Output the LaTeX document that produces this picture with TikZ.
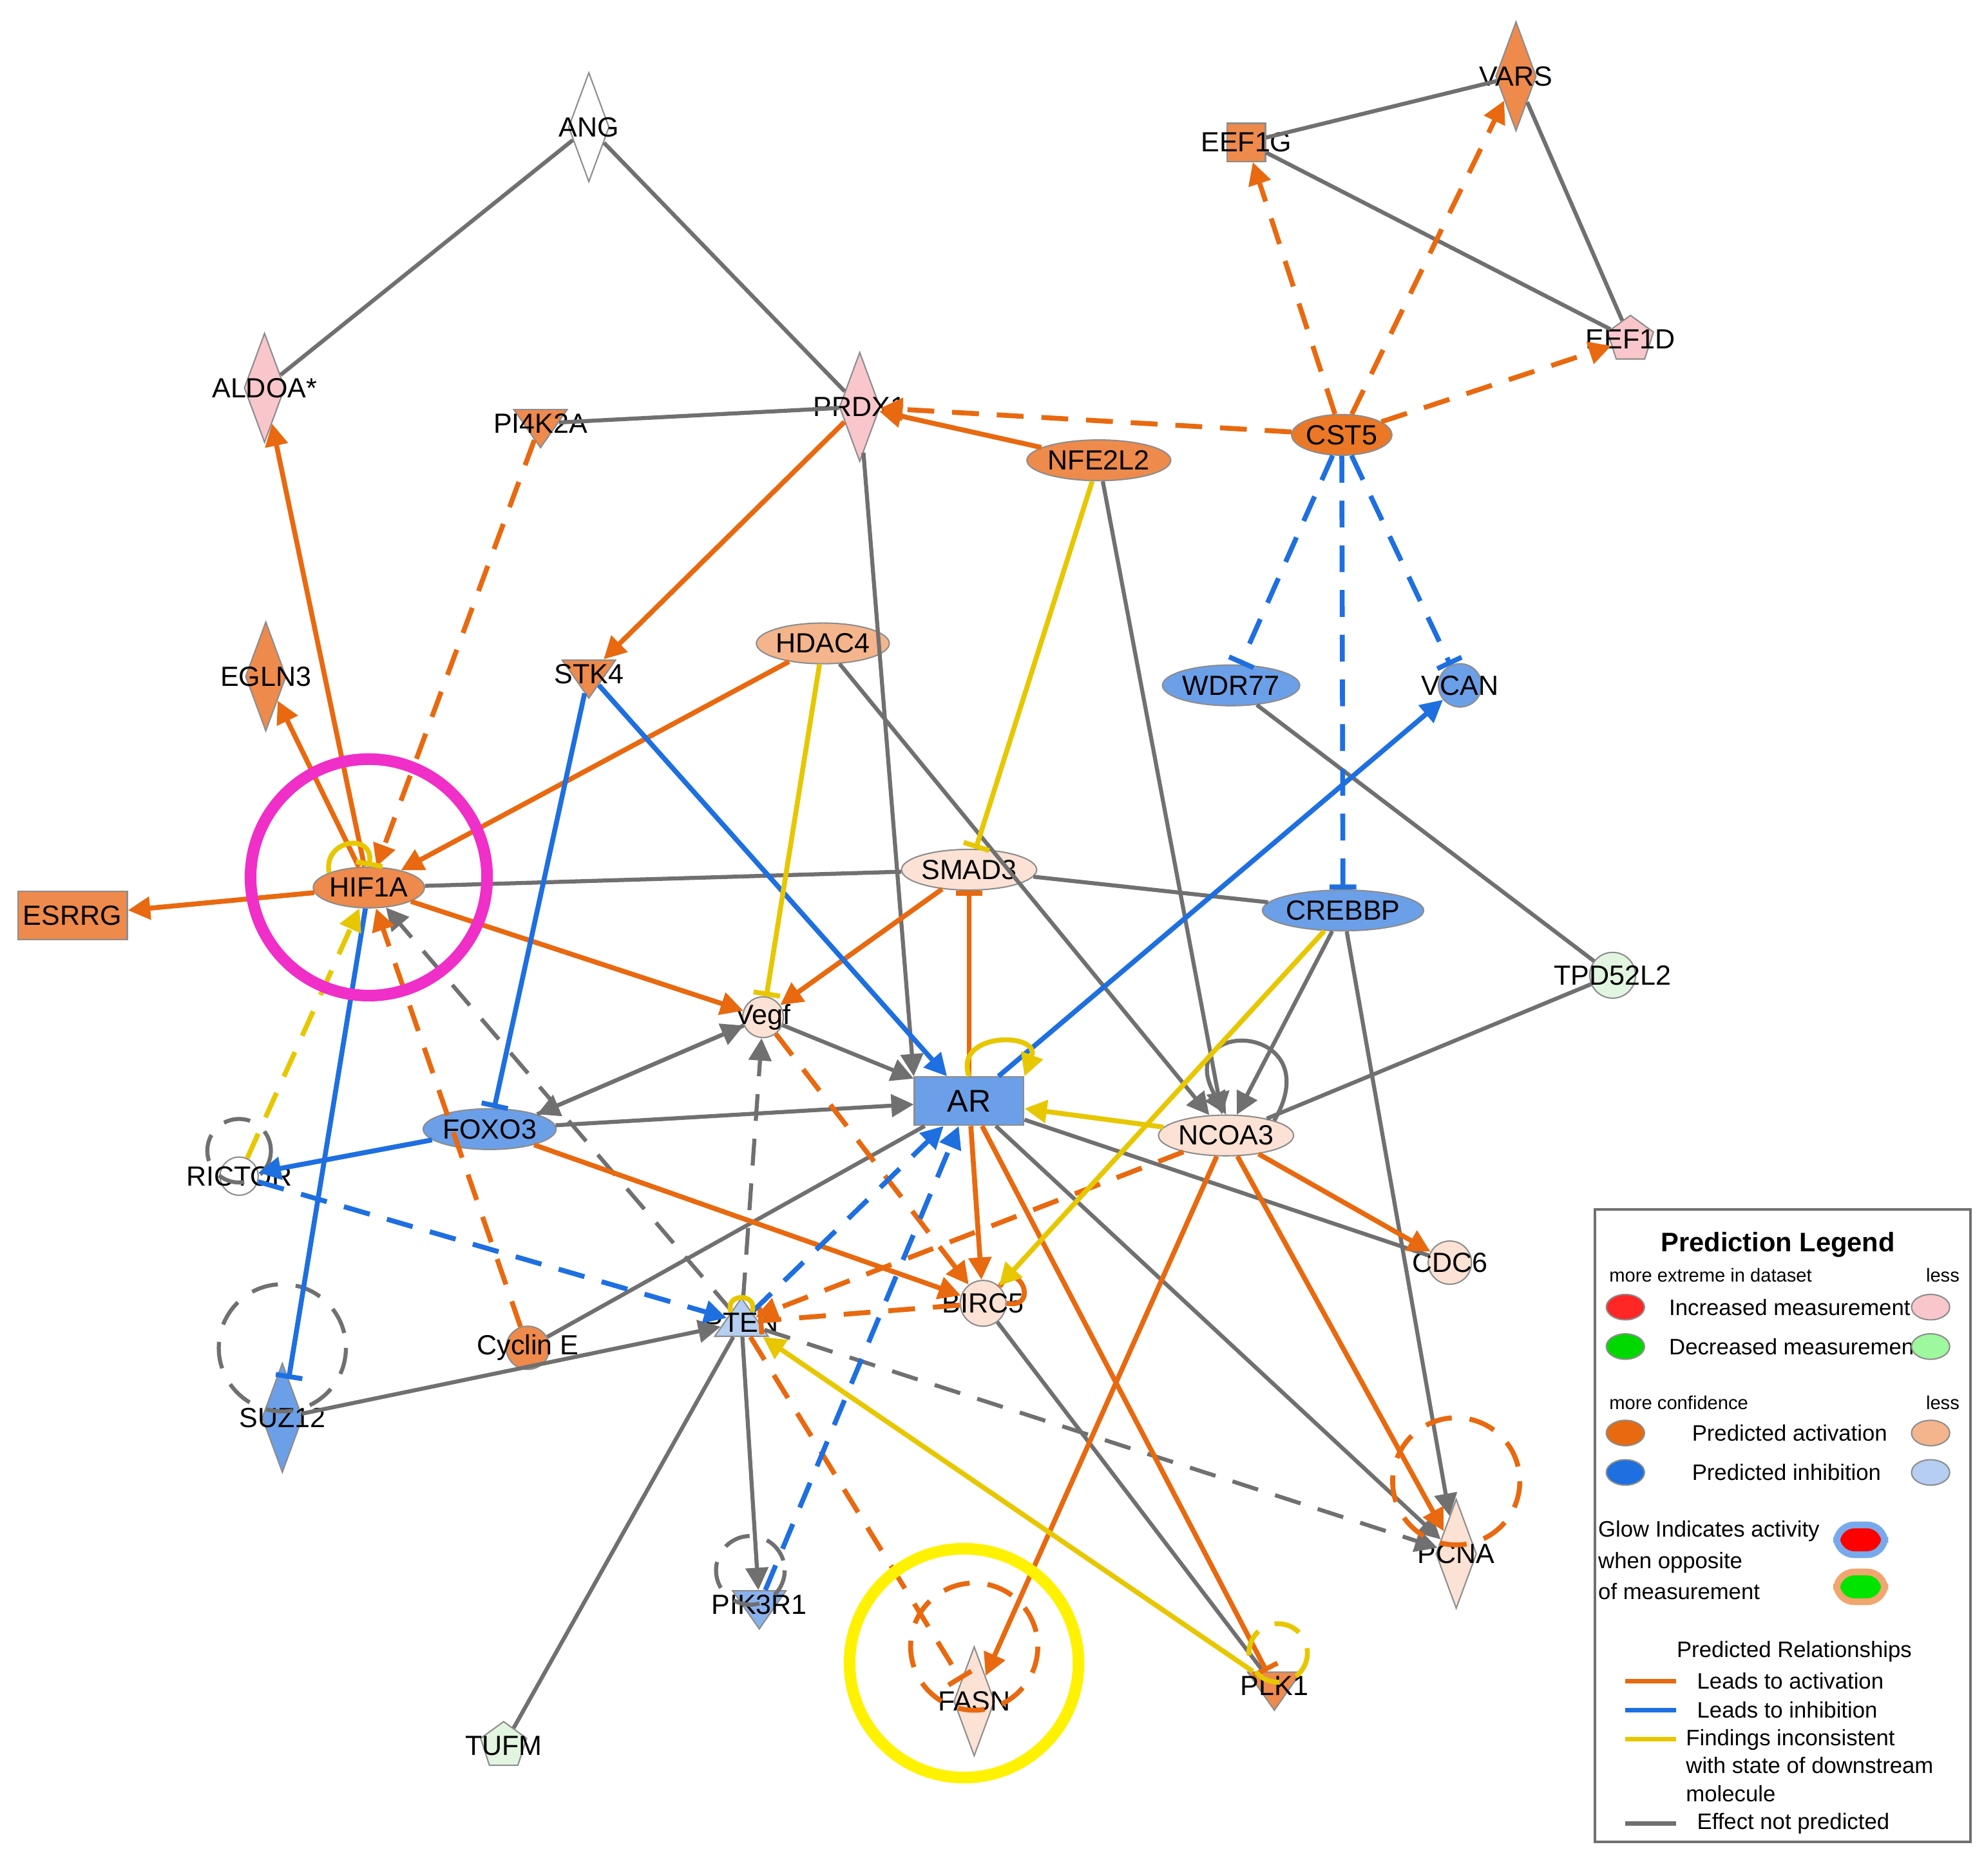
\documentclass[tikz,border=0pt]{standalone}
\usepackage{fontspec}
\setmainfont{Liberation Sans}
\usetikzlibrary{shapes.geometric,arrows.meta}
\definecolor{cO}{HTML}{E8690F}
\definecolor{cB}{HTML}{1E6FE0}
\definecolor{cY}{HTML}{E6C700}
\definecolor{cG}{HTML}{707070}
\definecolor{fO}{HTML}{EE8A4C}
\definecolor{fLO}{HTML}{F4B58C}
\definecolor{fP}{HTML}{FBE2D4}
\definecolor{fB}{HTML}{6B9FE8}
\definecolor{fLB}{HTML}{B5CEF2}
\definecolor{fPk}{HTML}{F8C6CB}
\definecolor{fGr}{HTML}{E2F5E0}
\definecolor{mag}{HTML}{F02EC8}
\definecolor{yel}{HTML}{FFF200}
\begin{document}
\begin{tikzpicture}[x=0.01cm,y=-0.01cm,font=\fontsize{6.2}{7}\selectfont,
 sh/.style={draw=cG!80,line width=0.3pt,inner sep=0pt},
 ell/.style={sh,ellipse,minimum width=0.84cm,minimum height=0.32cm},
 cir/.style={sh,circle,minimum size=0.3cm},
 dia/.style={sh,diamond,aspect=0.36,minimum width=0.32cm,minimum height=0.86cm},
 tdn/.style={sh,isosceles triangle,shape border rotate=270,isosceles triangle apex angle=70,minimum height=0.3cm,minimum width=0.36cm},
 tup/.style={sh,isosceles triangle,shape border rotate=90,isosceles triangle apex angle=70,minimum height=0.3cm,minimum width=0.36cm},
 pent/.style={sh,regular polygon,regular polygon sides=5,minimum size=0.38cm},
 box/.style={sh,rectangle,minimum width=0.3cm,minimum height=0.3cm},
 e/.style={line width=1.1pt},
 ar/.style={-{Triangle[length=5pt,width=5pt]}},
 tb/.style={-{Bar[width=6pt]}},
 O/.style={e,cO}, B/.style={e,cB}, Y/.style={e,cY}, G/.style={cG,line width=0.9pt},
 D/.style={dash pattern=on 6pt off 4pt}]
\useasboundingbox (0,0) rectangle (1560,1475);
% nodes
\node[dia,fill=white,label=center:ANG] (ang) at (463,100) {};
\node[dia,fill=fPk,label=center:ALDOA*] (aldoa) at (208,305) {};
\node[tdn,fill=fO,label=center:PI4K2A] (pi4k) at (425,333) {};
\node[dia,fill=fPk,label=center:PRDX1] (prdx1) at (676,320) {};
\node[ell,fill=fO] (nfe) at (864,362) {NFE2L2};
\node[ell,fill=cO!90,minimum width=0.5cm] (cst5) at (1055,342) {CST5};
\node[box,fill=fO,label=center:EEF1G] (eef1g) at (980,112) {};
\node[dia,fill=fO,label=center:VARS] (vars) at (1192,60) {};
\node[pent,fill=fPk,label=center:EEF1D] (eef1d) at (1282,267) {};
\node[dia,fill=fO,label=center:EGLN3] (egln3) at (209,532) {};
\node[tdn,fill=fO,label=center:STK4] (stk4) at (463,530) {};
\node[ell,fill=fLO] (hdac4) at (647,506) {HDAC4};
\node[ell,fill=fB] (wdr77) at (968,539) {WDR77};
\node[cir,fill=fB,minimum size=0.34cm,label=center:VCAN] (vcan) at (1148,539) {};
\node[ell,fill=fO] (hif) at (290,698) {HIF1A};
\node[box,fill=fO,minimum width=0.86cm,minimum height=0.38cm] (esrrg) at (57,720) {ESRRG};
\node[ell,fill=fP] (smad3) at (762,684) {SMAD3};
\node[ell,fill=fB] (crebbp) at (1056,716) {CREBBP};
\node[cir,fill=fGr,minimum size=0.36cm,label=center:TPD52L2] (tpd) at (1268,767) {};
\node[cir,fill=fP,minimum size=0.32cm,label=center:Vegf] (vegf) at (600,800) {};
\node[box,fill=fB,minimum width=0.86cm,minimum height=0.38cm,font=\fontsize{7}{8}\selectfont] (ar) at (762,866) {AR};
\node[ell,fill=fP] (ncoa3) at (964,893) {NCOA3};
\node[ell,fill=fB] (foxo3) at (385,888) {FOXO3};
\node[cir,fill=white,label=center:RICTOR] (rictor) at (188,925) {};
\node[cir,fill=fP,minimum size=0.34cm,label=center:CDC6] (cdc6) at (1140,993) {};
\node[cir,fill=fP,minimum size=0.36cm,label=center:BIRC5] (birc5) at (773,1025) {};
\node[tup,fill=fLB,label=center:PTEN] (pten) at (583,1040) {};
\node[cir,fill=fO,minimum size=0.34cm,label=center:Cyclin E] (cyce) at (415,1060) {};
\node[dia,fill=fB,label=center:SUZ12] (suz12) at (222,1115) {};
\node[tdn,fill=fB!80,label=center:PIK3R1] (pik) at (597,1262) {};
\node[dia,fill=fP,label=center:FASN] (fasn) at (766,1338) {};
\node[dia,fill=fP,label=center:PCNA] (pcna) at (1145,1222) {};
\node[tdn,fill=fO,label=center:PLK1] (plk1) at (1002,1326) {};
\node[pent,fill=fGr,label=center:TUFM] (tufm) at (396,1373) {};
% gray
\draw[G] (ang)--(aldoa); \draw[G] (ang)--(prdx1); \draw[G] (pi4k)--(prdx1);
\draw[G] (eef1g)--(vars); \draw[G] (vars)--(eef1d); \draw[G] (eef1g)--(eef1d);
\draw[G,ar] (prdx1)--(ar.north west);
\draw[G,ar] (nfe)--(ncoa3);
\draw[G,ar] (hdac4)--(ncoa3);
\draw[G] (hif)--(smad3); \draw[G] (smad3)--(crebbp);
\draw[G,ar] (hif)--(vegf); \draw[G,ar] (vegf)--(ar); \draw[G,ar] (foxo3)--(ar);
\draw[G,ar] (foxo3.north east)--(vegf); \draw[G,ar] (vegf)--(foxo3.north east);
\draw[G,ar] (crebbp)--(ncoa3); \draw[G,ar] (crebbp)--(pcna);
\draw[G] (tpd)--(ncoa3); \draw[G] (wdr77)--(tpd);
\draw[G] (ar)--(cdc6); \draw[G,ar] (ar)--(pcna); \draw[G] (birc5)--(plk1);
\draw[G] (cyce)--(ar); \draw[G,ar] (suz12)--(pten); \draw[G] (pten)--(tufm);
\draw[G,ar] (pten)--(pik);
\draw[G,D,ar] (pten)--(vegf); \draw[G,D,ar] (pten)--(pcna); \draw[G,D,ar] (pten)--(hif);
\draw[G,ar] (ncoa3.north east) to[out=60,in=120,looseness=6] (ncoa3.north);
\draw[G,D] (188,905) circle (25);
\draw[G,D] (222,1060) circle (50);
\draw[G,D] (590,1235) circle (27);
% orange
\draw[O,ar] (hif)--(aldoa); \draw[O,ar] (hif)--(egln3); \draw[O,ar] (hif)--(esrrg);
\draw[O,ar] (hdac4)--(hif); \draw[O,ar] (nfe)--(prdx1); \draw[O,ar] (prdx1)--(stk4);
\draw[O,ar] (smad3)--(vegf); \draw[O,ar] (hif)--(vegf);
\draw[O,tb] (ar)--(smad3);
\draw[O,ar] (foxo3)--(birc5); \draw[O,ar] (ar)--(birc5); \draw[O,tb] (ar)--(plk1);
\draw[O,ar] (ncoa3)--(cdc6); \draw[O,ar] (ncoa3)--(pcna); \draw[O,ar] (ncoa3)--(fasn);
\draw[O] (birc5.north east) to[out=60,in=-10,looseness=5] (birc5.east);
\draw[O,D,ar] (cst5)--(prdx1); \draw[O,D,ar] (cst5)--(eef1g); \draw[O,D,ar] (cst5)--(vars); \draw[O,D,ar] (cst5)--(eef1d);
\draw[O,D,ar] (pi4k)--(hif); \draw[O,D,ar] (cyce)--(hif);
\draw[O,D,ar] (vegf)--(birc5); \draw[O,D,ar] (ncoa3)--(pten); \draw[O,D,tb] (birc5)--(pten);
\draw[O,D,tb] (pten)--(fasn);
\draw[O,D] (766,1295) circle (50);
\draw[O,D] (1145,1165) circle (50);
% blue
\draw[B,tb] (hif)--(suz12); \draw[B,tb] (stk4)--(foxo3); \draw[B,ar] (stk4)--(ar);
\draw[B,ar] (foxo3)--(rictor); \draw[B,ar] (ar)--(vcan);
\draw[B,D,tb] (cst5)--(wdr77); \draw[B,D,tb] (cst5)--(vcan); \draw[B,D,tb] (cst5)--(crebbp);
\draw[B,D,ar] (rictor)--(pten); \draw[B,D,ar] (pten)--(ar); \draw[B,D,ar] (pik)--(ar);
% yellow
\draw[Y,tb] (nfe)--(smad3); \draw[Y,tb] (hdac4)--(vegf); \draw[Y,ar] (ncoa3)--(ar);
\draw[Y,ar] (crebbp)--(birc5); \draw[Y,ar] (plk1)--(pten);
\draw[Y,D,ar] (rictor)--(hif);
\draw[Y,tb] (hif.north west) to[out=100,in=80,looseness=2.2] (hif.north);
\draw[Y,ar] (ar.north) to[out=110,in=70,looseness=2.2] (ar.north east);
\draw[Y] (pten.north west) to[out=110,in=70,looseness=2.5] (pten.north east);
\draw[Y,D] (1005,1300) circle (23);
% highlight circles
\draw[mag,line width=2.6pt] (290,690) circle (93);
\draw[yel,line width=2.6pt] (758,1308) circle (90);
% legend
\node[draw=cG,line width=0.6pt,minimum width=2.95cm,minimum height=4.97cm,anchor=north west] (leg) at (1253,950) {};
\node[fill=white,font=\fontsize{6}{7}\selectfont\bfseries] (lt) at (1398,979) {Prediction Legend};
\tikzset{lt/.style={font=\fontsize{5}{5.6}\selectfont,anchor=west}, ls/.style={font=\fontsize{4.2}{5}\selectfont,anchor=west}, lk/.style={ell,minimum width=0.3cm,minimum height=0.2cm}}
\node[ls] (l1) at (1253,1003) {more extreme in dataset}; \node[ls] (l1b) at (1502,1003) {less};
\node[lk,fill=red!85] (k1) at (1278,1028) {}; \node[lt] (t1) at (1300,1028) {Increased measurement}; \node[lk,fill=fPk] (k1b) at (1518,1028) {};
\node[lk,fill=green!85!black] (k2) at (1278,1059) {}; \node[lt] (t2) at (1300,1059) {Decreased measurement}; \node[lk,fill=fGr!70!green] (k2b) at (1518,1059) {};
\node[ls] (l2) at (1253,1103) {more confidence}; \node[ls] (l2b) at (1502,1103) {less};
\node[lk,fill=cO] (k3) at (1278,1127) {}; \node[lt] (t3) at (1318,1127) {Predicted activation}; \node[lk,fill=fLO] (k3b) at (1518,1127) {};
\node[lk,fill=cB] (k4) at (1278,1158) {}; \node[lt] (t4) at (1318,1158) {Predicted inhibition}; \node[lk,fill=fLB] (k4b) at (1518,1158) {};
\node[align=left,font=\fontsize{5}{7}\selectfont,anchor=base west,inner sep=0pt] (t5) at (1256,1258) {Glow Indicates activity\\when opposite\\of measurement};
\node[draw=cB!60,line width=1.5pt,rounded corners=4pt,fill=red,minimum width=0.38cm,minimum height=0.2cm] (k5) at (1463,1211) {};
\node[draw=cO!60,line width=1.5pt,rounded corners=4pt,fill=green!90!black,minimum width=0.38cm,minimum height=0.2cm] (k6) at (1463,1248) {};
\node[lt] (t6) at (1306,1299) {Predicted Relationships};
\coordinate (a1) at (1278,1322); \coordinate (a2) at (1318,1322);
\draw[cO,line width=1pt] (a1)--(a2); \node[lt] (t7) at (1322,1322) {Leads to activation};
\coordinate (b1) at (1278,1345); \coordinate (b2) at (1318,1345);
\draw[cB,line width=1pt] (b1)--(b2); \node[lt] (t8) at (1322,1345) {Leads to inhibition};
\coordinate (c1) at (1278,1368); \coordinate (c2) at (1318,1368);
\draw[cY,line width=1pt] (c1)--(c2); \node[align=left,anchor=base west,inner sep=0pt,font=\fontsize{5}{6.3}\selectfont] (t9) at (1325,1417) {Findings inconsistent\\with state of downstream\\molecule};
\coordinate (d1) at (1278,1434); \coordinate (d2) at (1318,1434);
\draw[cG,line width=1pt] (d1)--(d2); \node[lt] (t10) at (1322,1434) {Effect not predicted};
\end{tikzpicture}
\end{document}
